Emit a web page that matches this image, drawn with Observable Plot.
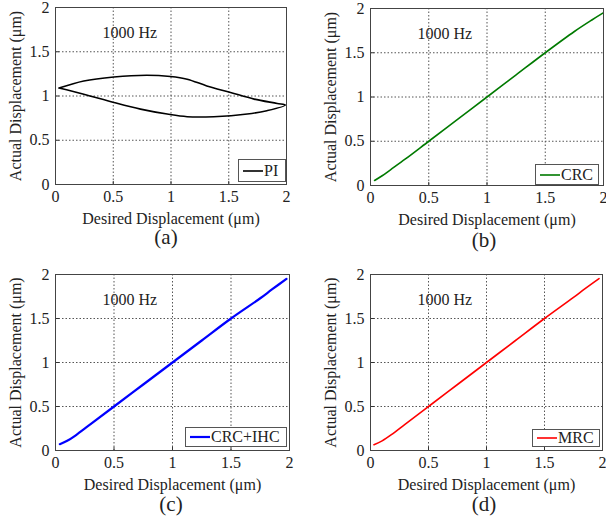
<!DOCTYPE html>
<html>
<head>
<meta charset="utf-8">
<script src="https://cdn.jsdelivr.net/npm/d3@7"></script>
<script src="https://cdn.jsdelivr.net/npm/@observablehq/plot@0.6"></script>
<style>
  html, body { margin: 0; padding: 0; background: #fff; }
  #root { position: relative; width: 606px; height: 518px; font-family: "Liberation Serif", serif; color: #222; }
  .panel { position: absolute; }
  .cap { position: absolute; font-size: 21px; line-height: 1; transform: translate(-50%, -50%); white-space: nowrap; }
  .legend { position: absolute; border: 1px solid #555; background: #fff; font-size: 16px; display: flex; align-items: center; box-sizing: border-box; padding: 0 3px 0 4px; white-space: nowrap; }
  .legend svg { margin-right: 1px; }
</style>
</head>
<body>
<div id="root"></div>
<script>
// ---- data ----
const ticks = [0, 0.5, 1, 1.5, 2];
const gridTicks = [0.5, 1, 1.5];
const freqLabel = "1000 Hz";
const xLabel = "Desired Displacement (μm)";
const yLabel = "Actual Displacement (μm)";

// (a) PI : hysteresis loop
const piX = [0.03, 0.245, 0.505, 0.79, 0.995, 1.14, 1.31, 1.515, 1.72, 1.92, 1.99, 1.83, 1.66, 1.37, 1.14, 0.967, 0.736, 0.505, 0.245, 0.03];
const piY = [1.09, 1.17, 1.215, 1.234, 1.22, 1.19, 1.114, 1.04, 0.965, 0.916, 0.897, 0.834, 0.796, 0.766, 0.766, 0.796, 0.852, 0.927, 1.02, 1.09];

// (b) CRC
const crcX = [0.035, 0.1, 0.174, 0.3, 0.5, 0.75, 1.0, 1.25, 1.5, 1.75, 1.9, 1.994];
const crcY = [0.057, 0.11, 0.18, 0.3, 0.5, 0.75, 1.0, 1.25, 1.5, 1.74, 1.87, 1.947];

// (c) CRC+IHC
const ihcX = [0.037, 0.1, 0.17, 0.3, 0.5, 0.75, 1.0, 1.25, 1.5, 1.75, 1.85, 1.974];
const ihcY = [0.072, 0.11, 0.17, 0.3, 0.5, 0.75, 1.0, 1.25, 1.5, 1.73, 1.83, 1.95];

// (d) MRC
const mrcX = [0.03, 0.1, 0.18, 0.3, 0.5, 0.75, 1.0, 1.25, 1.5, 1.75, 1.85, 1.97];
const mrcY = [0.065, 0.11, 0.18, 0.3, 0.5, 0.75, 1.0, 1.25, 1.5, 1.74, 1.84, 1.954];

const panels = [
  {name: "PI", cap: "(a)", xs: piX, ys: piY, color: "#000000", sw: 1.6,
   left: 0, top: 0, width: 300, height: 225, ml: 55, mr: 14, mt: 7, mb: 41,
   capX: 166, capY: 237, leg: {l: 238, t: 159, w: 48, h: 23}},
  {name: "CRC", cap: "(b)", xs: crcX, ys: crcY, color: "#007a00", sw: 1.6,
   left: 303, top: 0, width: 303, height: 225, ml: 67, mr: 3, mt: 8, mb: 40,
   capX: 484, capY: 240, leg: {l: 535, t: 164, w: 64, h: 21}},
  {name: "CRC+IHC", cap: "(c)", xs: ihcX, ys: ihcY, color: "#0000ff", sw: 2.2,
   left: 0, top: 265, width: 300, height: 225, ml: 55, mr: 11, mt: 9, mb: 40,
   capX: 171, capY: 504, leg: {l: 185, t: 427, w: 102, h: 20}},
  {name: "MRC", cap: "(d)", xs: mrcX, ys: mrcY, color: "#ff0000", sw: 1.6,
   left: 303, top: 265, width: 303, height: 225, ml: 67, mr: 4, mt: 9, mb: 40,
   capX: 484, capY: 504, leg: {l: 532, t: 429, w: 68, h: 18}}
];

const root = document.getElementById("root");
const fmt = d => String(d);

for (const p of panels) {
  const data = p.xs.map((x, i) => ({x, y: p.ys[i]}));
  const chart = Plot.plot({
    width: p.width, height: p.height,
    marginLeft: p.ml, marginRight: p.mr, marginTop: p.mt, marginBottom: p.mb,
    style: {fontFamily: "Liberation Serif, serif", fontSize: "16px", color: "#222", background: "transparent", overflow: "visible"},
    x: {domain: [0, 2]},
    y: {domain: [0, 2]},
    marks: [
      Plot.ruleX(gridTicks, {x: d => d, stroke: "#555", strokeWidth: 1, strokeDasharray: "1.5,2"}),
      Plot.ruleY(gridTicks, {y: d => d, stroke: "#555", strokeWidth: 1, strokeDasharray: "1.5,2"}),
      Plot.axisX(ticks, {tickFormat: fmt, tickSize: 0, tickPadding: 6, label: xLabel, labelAnchor: "center", labelArrow: "none", labelOffset: 39, fontSize: 16}),
      Plot.axisY(ticks, {tickFormat: fmt, tickSize: 0, tickPadding: 6, label: yLabel, labelAnchor: "center", labelArrow: "none", labelOffset: 46, fontSize: 16}),
      Plot.ruleX(ticks, {x: d => d, y1: 0, y2: 0.035, stroke: "#333"}),
      Plot.ruleY(ticks, {y: d => d, x1: 0, x2: 0.035, stroke: "#333"}),
      Plot.line(data, {x: "x", y: "y", stroke: p.color, strokeWidth: p.sw, curve: "catmull-rom"}),
      Plot.text([freqLabel], {frameAnchor: "top-left", dx: 47, dy: 19, text: d => d, fontSize: 16, fill: "#222", textAnchor: "start"}),
      Plot.frame({stroke: "#444", strokeWidth: 1})
    ]
  });
  const div = document.createElement("div");
  div.className = "panel";
  div.style.left = p.left + "px";
  div.style.top = p.top + "px";
  div.appendChild(chart);
  root.appendChild(div);

  const cap = document.createElement("div");
  cap.className = "cap";
  cap.style.left = p.capX + "px";
  cap.style.top = p.capY + "px";
  cap.textContent = p.cap;
  root.appendChild(cap);

  const leg = document.createElement("div");
  leg.className = "legend";
  leg.style.left = p.leg.l + "px";
  leg.style.top = p.leg.t + "px";
  leg.style.width = p.leg.w + "px";
  leg.style.height = p.leg.h + "px";
  leg.innerHTML = `<svg width="20" height="6"><line x1="0" y1="3" x2="20" y2="3" stroke="${p.color}" stroke-width="${p.sw}"/></svg><span>${p.name}</span>`;
  root.appendChild(leg);
}
</script>
</body>
</html>
